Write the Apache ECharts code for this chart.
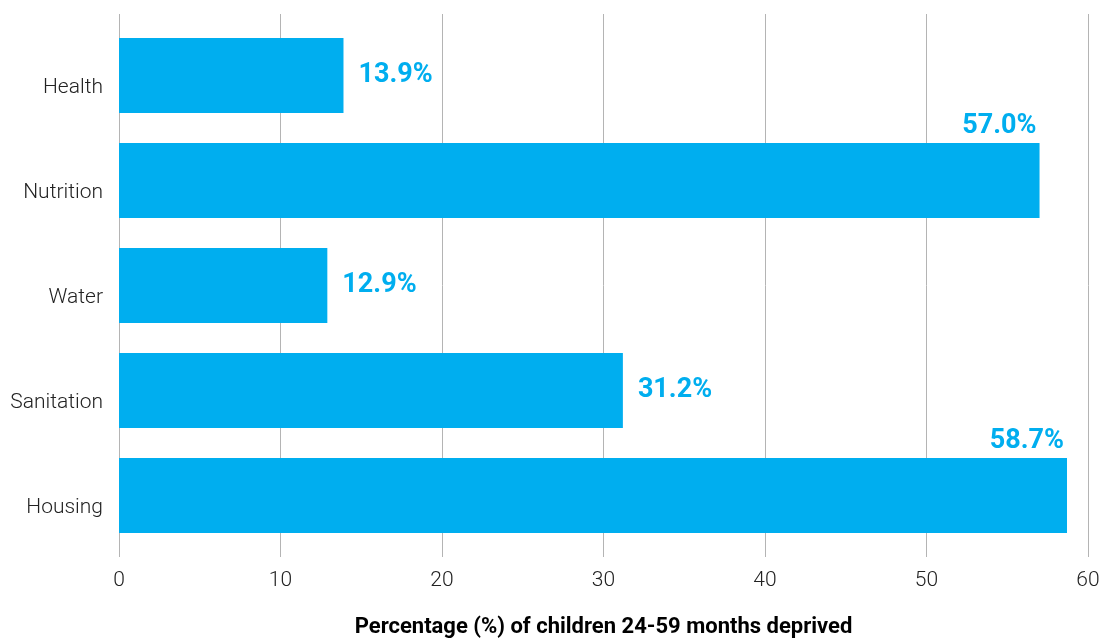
<!DOCTYPE html>
<html>
<head>
<meta charset="utf-8">
<script src="https://cdn.jsdelivr.net/npm/echarts@6/dist/echarts.min.js"></script>
<style>
html,body{margin:0;padding:0;background:#fff;}
#chart{width:1104px;height:639px;}
</style>
</head>
<body>
<div id="chart"></div>
<script>
var categories = ['Health', 'Nutrition', 'Water', 'Sanitation', 'Housing'];
var values = [13.9, 57.0, 12.9, 31.2, 58.7];
var labelAbove = [false, true, false, false, true];
var xTicks = [0, 10, 20, 30, 40, 50, 60];
var axisTitle = 'Percentage (%) of children 24-59 months deprived';

var blue = '#00AEEF';
var chart = echarts.init(document.getElementById('chart'));

var barData = values.map(function (v, i) {
  var item = { value: v };
  if (labelAbove[i]) {
    item.label = { position: 'insideTopRight', offset: [12, -45] };
  }
  return item;
});

chart.setOption({
  animation: false,
  grid: [
    { left: 119, right: 16, top: 14, bottom: 82, containLabel: false, outerBoundsMode: 'none' },
    { left: 119, right: 16, top: 23, bottom: 91, containLabel: false, outerBoundsMode: 'none' }
  ],
  xAxis: [
    {
      gridIndex: 0, type: 'value', min: xTicks[0], max: xTicks[xTicks.length - 1], interval: 10,
      axisLine: { show: false }, axisTick: { show: false },
      splitLine: { show: true, lineStyle: { color: '#b4b4b4', width: 1 } },
      axisLabel: { color: '#222', fontFamily: 'Roboto', fontWeight: 300, fontSize: 21, margin: 13 },
      name: axisTitle, nameLocation: 'middle', nameGap: 59,
      nameTextStyle: { color: '#000', fontFamily: 'Roboto', fontWeight: 'bold', fontSize: 22 }
    },
    {
      gridIndex: 1, type: 'value', min: 0, max: 60, interval: 10, show: false
    }
  ],
  yAxis: [
    { gridIndex: 0, type: 'category', data: categories, show: false },
    {
      gridIndex: 1, type: 'category', data: categories, inverse: true,
      axisLine: { show: false }, axisTick: { show: false },
      axisLabel: { color: '#222', fontFamily: 'Roboto', fontWeight: 300, fontSize: 21, margin: 16, verticalAlign: 'top', lineHeight: 25 }
    }
  ],
  series: [{
    type: 'bar', xAxisIndex: 1, yAxisIndex: 1,
    data: barData,
    barCategoryGap: '28.6%',
    itemStyle: { color: blue },
    label: {
      show: true, position: 'right', distance: 15,
      formatter: function (p) { return p.value.toFixed(1) + '%'; },
      color: blue, fontFamily: 'Roboto', fontWeight: 'bold', fontSize: 27
    }
  }]
});
</script>
</body>
</html>
